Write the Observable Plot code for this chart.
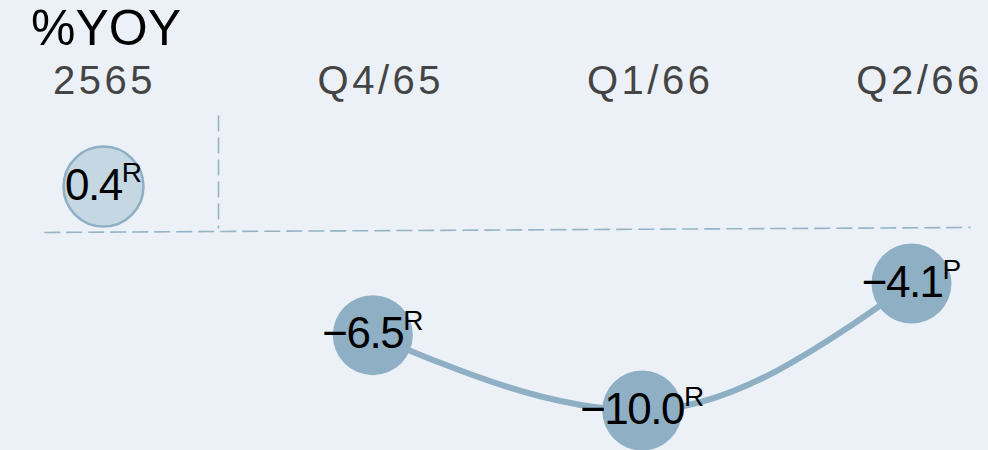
<!DOCTYPE html>
<html>
<head>
<meta charset="utf-8">
<script src="https://cdn.jsdelivr.net/npm/d3@7"></script>
<script src="https://cdn.jsdelivr.net/npm/@observablehq/plot@0.6"></script>
<style>
  html, body { margin: 0; padding: 0; background: #ebf1f6; }
  #wrap { position: relative; width: 988px; height: 450px; overflow: hidden; font-family: "Liberation Sans", Arial, sans-serif; }
  #title { position: absolute; left: 31px; top: 3px; font-size: 50px; line-height: 50px; color: #000; }
  svg { display: block; }
</style>
</head>
<body>
<div id="wrap">
  <div id="chart"></div>
  <div id="title">%YOY</div>
</div>
<script>
// ---- data ----
const periods = ["2565", "Q4/65", "Q1/66", "Q2/66"];
const values  = [0.4, -6.5, -10.0, -4.1];
const flags   = ["R", "R", "R", "P"];
const annualCount = 1; // first period is the annual figure, the rest are quarters

// separators (in data units)
const sepVertical = {x: 0.427, y1: 3.7, y2: -1.55};
const sepHorizontal = {x1: -0.22, x2: 3.22, y1: -1.73, y2: -1.50};

const data = periods.map((p, i) => ({i, period: p, value: values[i], flag: flags[i], annual: i < annualCount}));
const quarters = data.filter(d => !d.annual);
const annual = data.filter(d => d.annual);

const fmt = v => (v < 0 ? "\u2212" : "") + Math.abs(v).toFixed(1);

const lineColor = "#8eafc4";
const dashColor = "#95b4c7";

const chart = Plot.plot({
  width: 988,
  height: 450,
  margin: 0,
  style: {background: "transparent", fontFamily: "'Liberation Sans', Arial, sans-serif", overflow: "visible"},
  x: {domain: [0, 3], range: [103, 911], axis: null},
  y: {domain: [0, -10], range: [194.7, 410], axis: null},
  marks: [
    Plot.link([sepHorizontal], {x1: "x1", x2: "x2", y1: "y1", y2: "y2", stroke: dashColor, strokeWidth: 1.6, strokeDasharray: "16,6"}),
    Plot.link([sepVertical], {x1: "x", x2: "x", y1: "y1", y2: "y2", stroke: dashColor, strokeWidth: 1.6, strokeDasharray: "16,6"}),
    Plot.line(quarters, {x: "i", y: "value", curve: "monotone-x", stroke: lineColor, strokeWidth: 6}),
    Plot.dot(annual, {x: "i", y: "value", r: 40, fill: "#c4d7e2", stroke: lineColor, strokeWidth: 2.5}),
    Plot.dot(quarters, {x: "i", y: "value", r: 40, fill: lineColor}),
    Plot.text(annual, {x: "i", frameAnchor: "top", dy: 81, text: "period", fontSize: 40, fill: "#444", lineAnchor: "middle", dx: 1}),
    Plot.text(quarters, {x: "i", frameAnchor: "top", dy: 81, text: "period", fontSize: 40, fill: "#444", lineAnchor: "middle", dx: 8}),
    Plot.text(data, {x: "i", y: "value", text: d => fmt(d.value), fontSize: 44, fill: "#000", lineAnchor: "middle", dy: -1})
  ]
});

// post-process: letter spacing for headers, superscript flags on values
const textGroups = chart.querySelectorAll('g[aria-label="text"]');
[textGroups[0], textGroups[1]].forEach(g => g && g.setAttribute("letter-spacing", "3.5"));
const valueGroup = textGroups[2];
if (valueGroup) {
  valueGroup.setAttribute("letter-spacing", "-1.5");
  valueGroup.querySelectorAll("text").forEach((t, k) => {
    const ts = document.createElementNS("http://www.w3.org/2000/svg", "tspan");
    ts.setAttribute("font-size", "28");
    ts.setAttribute("dy", "-18");
    ts.setAttribute("letter-spacing", "0");
    ts.textContent = data[k].flag;
    t.appendChild(ts);
  });
}
document.getElementById("chart").appendChild(chart);
</script>
</body>
</html>
